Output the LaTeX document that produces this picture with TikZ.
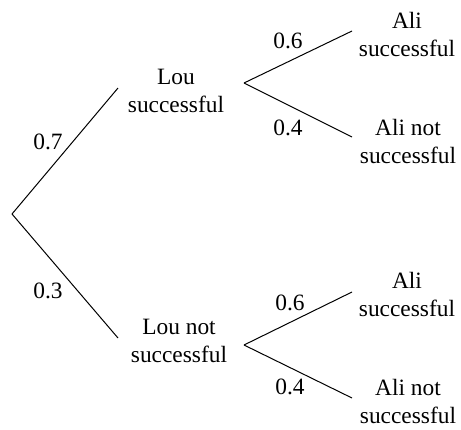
\documentclass[tikz,border=0pt]{standalone}
\usepackage{fontspec}
\setmainfont{Liberation Serif}
\begin{document}
\begin{tikzpicture}[x=0.5pt,y=-0.5pt,
  branch/.style={line width=0.5pt},
  outcome/.style={align=center,inner sep=0pt,font=\fontsize{11.7}{14}\selectfont},
  prob/.style={anchor=base,inner sep=0pt,font=\fontsize{11.7}{14}\selectfont}]
  \useasboundingbox (0,0) rectangle (461,429);
  % branch points and branch ends
  \coordinate (root) at (12,214);
  \coordinate (lsEnd) at (118,88);
  \coordinate (lnEnd) at (118,338);
  \coordinate (lsFork) at (244,83);
  \coordinate (lnFork) at (244,345);
  \coordinate (lsAsEnd) at (352,31);
  \coordinate (lsAnEnd) at (352,137);
  \coordinate (lnAsEnd) at (352,292);
  \coordinate (lnAnEnd) at (352,398);
  % outcomes
  \node[outcome] (ls) at (176,91) {Lou\\successful};
  \node[outcome] (ln) at (179,341) {Lou not\\successful};
  \node[outcome] (lsAs) at (407,34) {Ali\\successful};
  \node[outcome] (lsAn) at (408,141) {Ali not\\successful};
  \node[outcome] (lnAs) at (407,294) {Ali\\successful};
  \node[outcome] (lnAn) at (408,401) {Ali not\\successful};
  % branches
  \draw[branch] (root) -- (lsEnd);
  \draw[branch] (root) -- (lnEnd);
  \draw[branch] (lsFork) -- (lsAsEnd);
  \draw[branch] (lsFork) -- (lsAnEnd);
  \draw[branch] (lnFork) -- (lnAsEnd);
  \draw[branch] (lnFork) -- (lnAnEnd);
  % probabilities
  \node[prob] (p07) at (48,149) {0.7};
  \node[prob] (p03) at (48,298) {0.3};
  \node[prob] (p06a) at (288,48) {0.6};
  \node[prob] (p04a) at (288,135) {0.4};
  \node[prob] (p06b) at (290,310) {0.6};
  \node[prob] (p04b) at (290,394) {0.4};
\end{tikzpicture}
\end{document}
